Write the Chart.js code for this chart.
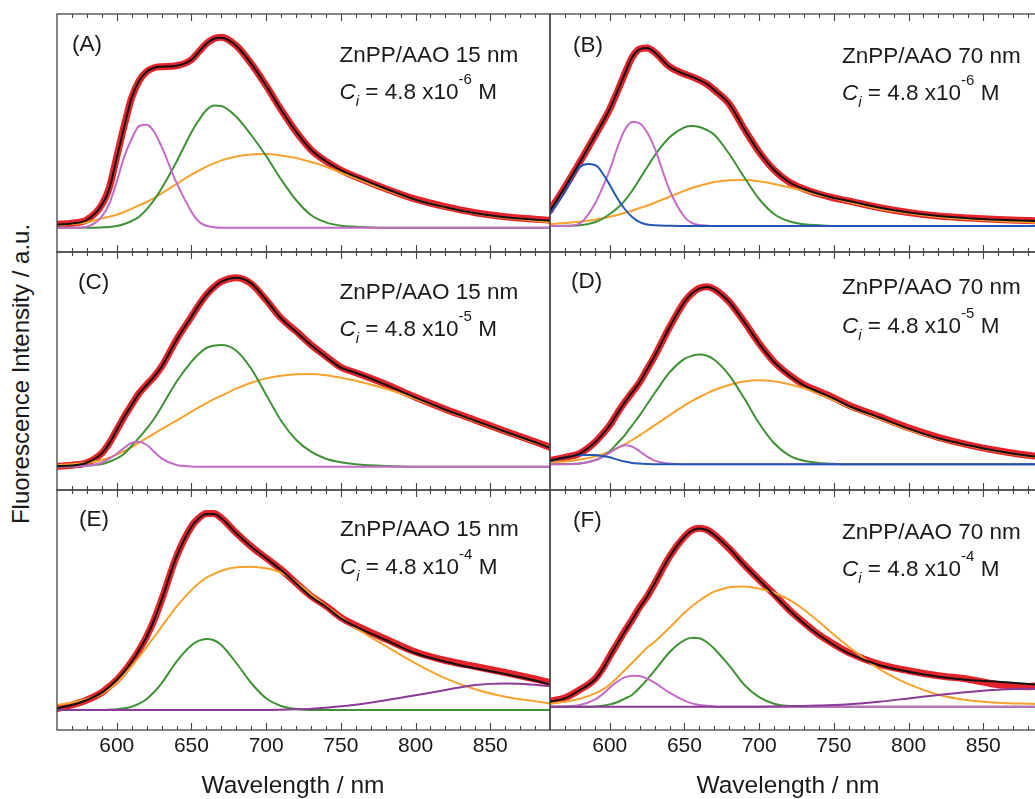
<!DOCTYPE html>
<html>
<head>
<meta charset="utf-8">
<script src="https://cdn.jsdelivr.net/npm/chart.js@4.4.1/dist/chart.umd.min.js"></script>
<style>
html,body{margin:0;padding:0;background:#fff;overflow:hidden;}
#wrap{position:relative;width:1035px;height:799px;overflow:hidden;background:#fff;font-family:"Liberation Sans",Arial,Helvetica,sans-serif;color:#1a1a1a;}
#wrap canvas{position:absolute;}
.t{position:absolute;white-space:nowrap;}
.sup{font-size:15px;position:relative;top:-15px;}
.sub{font-size:15px;position:relative;top:7px;font-style:italic;}
</style>
</head>
<body>
<div id="wrap"></div>
<script>
// ---------------- data (intensity in a.u. above each panel's baseline) ----------------
const wavelengths = [560,570,580,590,595,600,605,610,615,620,625,630,640,650,655,660,665,670,680,690,700,710,720,730,740,750,760,780,800,820,840,860,880,890];
const xTickLabels = [600,650,700,750,800,850];

// (A) ZnPP/AAO 15 nm, 4.8e-6 M
const A_data    = [3.5,4.5,8,23,40,71,102,130,147,156,160,161,162,168,176,184,189,190.5,182,164,142,118,96,78,66.5,57.5,51,39,28.5,21,15,11,8.5,7.5];
const A_fit     = [3,4.3,7.7,22.7,39,70,101,130,147,156,160,161,162,168,176,184,189,190,182,164,142,118,96,78,66.5,57.5,51,39,28,20.5,14.5,10.5,8,7];
const A_magenta = [0,0,1,11,24,46,71,89,101.7,103,96,81,45,16,6,2,0.5,0,0,0,0,0,0,0,0,0,0,0,0,0,0,0,0,0];
const A_green   = [0,0,0,0.3,0.7,1.7,3.7,6.7,11,18.3,27.7,39.3,66,95.5,107.7,117.7,122.3,121.7,111,92.7,71.7,48.3,27.7,12.7,5.3,2,1,0,0,0,0,0,0,0];
const A_orange  = [2.7,3.7,5.3,9.3,11,13,15.7,19,22.3,25.7,29.7,34.3,43.7,53,57,61,64.3,67.3,71.3,73.3,73.7,72.3,69.7,65.7,61,55,49.3,37.7,27.7,20.3,14.3,10,7,5.3];

// (B) ZnPP/AAO 70 nm, 4.8e-6 M
const B_data    = [15.5,39,64,90,103,117,134,152,168.7,177,178,173.7,159.3,152,149.3,146,142,136,122,97,74,56,44,37,32,28,25,18.5,13.5,10,8,6.5,5.5,5];
const B_fit     = [15.3,38.7,63.7,90,103,117,134,152,168.7,176.7,178,173.7,159.3,152,149.3,146,142,136,122,97,74,56,44,37,32,28,25,18.5,13.5,10,7.8,6.3,5.3,4.8];
const B_blue    = [12,34,59,61,53,41,28,17,9,3.8,1.6,0.7,0.2,0,0,0,0,0,0,0,0,0,0,0,0,0,0,0,0,0,0,0,0,0];
const B_magenta = [0,0,2.7,22,38,56,78,96,104,102.7,93.7,78,36,9,3,1,0.3,0,0,0,0,0,0,0,0,0,0,0,0,0,0,0,0,0];
const B_green   = [0,0.3,0.7,3.7,7,12,17.7,25.3,35.3,47,58.7,70.3,88.7,98.7,100,99,96,91.3,72,48.7,27,12,4.7,1.7,0.7,0,0,0,0,0,0,0,0,0];
const B_orange  = [2,3,4.3,6.3,7.7,9.3,11,13.3,15.3,18,20.3,23.3,29.3,35.3,38,40.3,42.3,44,45.7,46,44.7,42,38.7,35,31,27.7,24,17.3,12.7,9,6.7,5,3.7,3];

// (C) ZnPP/AAO 15 nm, 4.8e-5 M
const C_data    = [0.5,1.5,4,13.5,23.5,36.7,50,62,73.5,82,90,100,127,150,161.7,172,179.5,185,189,183,166.7,148.5,135.5,122,110.5,99.5,94,82.5,69.5,57.5,46.5,35.5,25,19.5];
const C_fit     = [0.7,1.3,4,13.3,23.3,36.7,50,61.7,73.3,81.7,90,100,126.7,150,161.7,171.7,179.3,185,189,183.3,166.7,148.3,135,121.7,110,99,94,82,69,57,46,35,24.5,19];
const C_magenta = [0,0.3,1,4,8,13,19,24,25,21.7,15,8.3,1.7,0.3,0,0,0,0,0,0,0,0,0,0,0,0,0,0,0,0,0,0,0,0];
const C_green   = [0,0.3,1,2.7,5,8.3,13,21,29,38,48,60,85,105,113,118.7,121,121.7,116,98,72,46,27,15,8,4.5,2.5,0.7,0,0,0,0,0,0];
const C_orange  = [1.7,2.5,4,6.5,9,12,15.5,19.5,24,28.5,33,37.5,46,55,59.5,63.5,67.5,71,78,84,88.3,91,92.5,92.7,91.5,89,86,78,68,56.5,45.5,34.5,24,19.5];

// (D) ZnPP/AAO 70 nm, 4.8e-5 M
const D_data    = [4,7,11,22,30,39,51,62,72,82,95,108,137,162.5,171,176,177.5,175,162.5,142.5,121,102.5,89.5,79.5,73,66.5,59,48,36.5,27,19.5,13.5,9,7.5];
const D_fit     = [4,6.7,10.7,21.7,29.7,39,50.7,61.7,72,82,95,108,137,162.3,170.7,175.7,177.3,175,162.3,142.3,120.7,102.3,89,79,72.3,65.7,58.3,47,35.7,26,19,13,8.5,7];
const D_blue    = [3,6.7,9.3,9.3,8.3,7,4.7,2.7,1.3,0.7,0.3,0,0,0,0,0,0,0,0,0,0,0,0,0,0,0,0,0,0,0,0,0,0,0];
const D_magenta = [0,0,0.7,4,7.3,11.7,16.3,19,17.7,13,7.7,3.7,0.7,0,0,0,0,0,0,0,0,0,0,0,0,0,0,0,0,0,0,0,0,0];
const D_green   = [0,0.2,0.7,4,7.5,13,21,29,39,49,60,71,92,105.5,108.5,109.7,108.5,104.5,89,66,41,21,9,3.5,1.3,0.5,0,0,0,0,0,0,0,0];
const D_orange  = [1.7,2.7,4.7,7.7,10,12.7,16,20,24.3,29,34,39,49,59,63.3,67.3,71,74.3,79.3,82.7,84,83,80,76,70.5,64,57.3,46,34.5,25.5,18.5,12.5,8,6.5];

// (E) ZnPP/AAO 15 nm, 4.8e-4 M
const E_data    = [1.5,5,10,17.5,23.5,30,38.5,48.5,60,73.5,90,110,153.5,183.5,192,196.5,196.5,192,177,163.5,152,140.5,127,114,104,92.5,84.5,71,58,49.5,43.5,37.5,31,27.5];
const E_fit     = [1.7,5,10,17.3,23.3,30,38.3,48.3,60,73.3,90,110,153.3,183.3,191.7,196,196,191.7,176.7,163.3,151.7,140,126.7,113.3,103.3,91.7,83.3,70,56.7,48.3,41.7,36,29.5,25.5];
const E_green   = [0,0,0,0,0.3,0.7,1.7,3.3,6.3,11,18,26.7,48.3,64.7,69.3,71,69.7,65,47,27,11.7,4,1,0,0,0,0,0,0,0,0,0,0,0];
const E_orange  = [5,7.5,11,16,20.7,27,35,44,53,63,73,83.3,103.3,120,126.7,132.3,136,139.3,142.7,143.3,141.7,137.3,128,116,104,93,82,64,46.7,31.7,20.7,13.3,8.7,6.7];
const E_purple  = [0,0,0,0,0,0,0,0,0,0,0,0,0,0,0,0,0,0,0,0,0,0.3,0.7,1.3,2.3,3.7,5.3,9.7,14.7,20,25,26.5,25.3,23.7];

// (F) ZnPP/AAO 70 nm, 4.8e-4 M
const F_data    = [5.5,9,17,27.5,37.5,50.5,63,75.5,87,99.5,110,123,150,170,176.5,178.5,177,172,158,142,127,112.5,97,84,72,62.5,54,42.5,36,31,27.5,22,20,22];
const F_fit     = [5,8.3,16.7,27,37,50,63,75,87,99,110,123.3,150,170,176,178.3,176.7,171.7,158.3,141.7,126.7,111.7,96.7,83.3,71.7,61.7,53.3,41.7,35,30,26.7,25,22.7,21.7];
const F_magenta = [0,0.3,1.7,7,12.3,19,25,29.3,31,30.7,28,24,14,6,3.3,1.7,1,0.3,0,0,0,0,0,0,0,0,0,0,0,0,0,0,0,0];
const F_green   = [0,0,0,0.3,1,2.3,4.5,8,12,19,27,36,54.5,66.5,69,68.5,64.5,58,41,22,9.5,3,0.7,0,0,0,0,0,0,0,0,0,0,0];
const F_orange  = [3.3,5,8,13,17,22,29,36.5,44,51.5,59,65,79,94,100.5,106,111,115,119.5,120.3,118,114,107,97,85,72,60,38,22.5,12,6.5,4,3,2.7];
const F_purple  = [0,0,0,0,0,0,0,0,0,0,0,0,0,0,0,0,0,0,0,0,0,0.2,0.4,0.8,1.2,1.7,2.5,5,8.3,11.7,14.7,17,18,18];

// ---------------- styling / layout ----------------
const FONT = '"Liberation Sans", Arial, Helvetica, sans-serif';
const COLORS = {data:'#e4232b', fit:'#111111', magenta:'#c46bc8', green:'#3f9136', orange:'#f8a22e', blue:'#2457b6', purple:'#8a3a97'};
const WIDTHS = {data:7, fit:2, magenta:2, green:2, orange:2, blue:2, purple:2};
const ORDER  = {data:3, fit:1, magenta:2, green:2, orange:2, blue:2, purple:2};
const COL_LEFT = [57, 550];
const PANEL_W = 493;
const ROW_TOP = [14, 252, 490];
const ROW_H = [238, 238, 240];
const PAD = 4;
const AXIS_H = 40;

const panels = [
  {key:'A', col:0, row:0, yMin:-24.3, yMax:213.7, series:[['data',A_data],['fit',A_fit],['magenta',A_magenta],['green',A_green],['orange',A_orange]]},
  {key:'B', col:1, row:0, yMin:-26,   yMax:212,   series:[['data',B_data],['fit',B_fit],['blue',B_blue],['magenta',B_magenta],['green',B_green],['orange',B_orange]]},
  {key:'C', col:0, row:1, yMin:-23.3, yMax:214.7, series:[['data',C_data],['fit',C_fit],['magenta',C_magenta],['green',C_green],['orange',C_orange]]},
  {key:'D', col:1, row:1, yMin:-25.7, yMax:212.3, series:[['data',D_data],['fit',D_fit],['blue',D_blue],['magenta',D_magenta],['green',D_green],['orange',D_orange]]},
  {key:'E', col:0, row:2, yMin:-20,   yMax:220,   series:[['data',E_data],['fit',E_fit],['purple',E_purple],['green',E_green],['orange',E_orange]]},
  {key:'F', col:1, row:2, yMin:-23.3, yMax:216.7, series:[['data',F_data],['fit',F_fit],['purple',F_purple],['magenta',F_magenta],['green',F_green],['orange',F_orange]]}
];
// series drawn with a rounded (tension) spline instead of monotone
const roundedSeries = ['B blue'];

const texts = [
  {label:'(A)', lx:72,  lb:52.5,  pore:'15', exp:'-6', tx:339.5, b1:63,    b2:100},
  {label:'(B)', lx:573, lb:52.8,  pore:'70', exp:'-6', tx:842,   b1:64,    b2:100.7},
  {label:'(C)', lx:78,  lb:290.5, pore:'15', exp:'-5', tx:339.5, b1:300,   b2:337},
  {label:'(D)', lx:571, lb:289,   pore:'70', exp:'-5', tx:842,   b1:295.5, b2:333.7},
  {label:'(E)', lx:79,  lb:527,   pore:'15', exp:'-4', tx:340,   b1:536.7, b2:575},
  {label:'(F)', lx:573, lb:528.5, pore:'70', exp:'-4', tx:842,   b1:540,   b2:576.7}
];

const wrap = document.getElementById('wrap');

const framePlugin = {
  id: 'frame',
  afterDatasetsDraw(chart) {
    const ctx = chart.ctx, a = chart.chartArea, x = chart.scales.x;
    ctx.save();
    ctx.strokeStyle = '#444';
    ctx.lineWidth = 1.3;
    ctx.strokeRect(a.left, a.top, a.right - a.left, a.bottom - a.top);
    ctx.lineWidth = 1.1;
    ctx.beginPath();
    for (let v = 570; v < 890; v += 10) {
      const px = Math.round(x.getPixelForValue(v)) + 0.5;
      const len = (v % 50 === 0) ? 7 : 4;
      ctx.moveTo(px, a.bottom); ctx.lineTo(px, a.bottom - len);
      ctx.moveTo(px, a.top);    ctx.lineTo(px, a.top + len);
    }
    ctx.stroke();
    ctx.restore();
  }
};

panels.forEach(p => {
  const bottomRow = p.row === 2;
  const cv = document.createElement('canvas');
  const W = PANEL_W + 2 * PAD;
  const H = ROW_H[p.row] + 2 * PAD + (bottomRow ? AXIS_H : 0);
  cv.width = W; cv.height = H;
  cv.style.left = (COL_LEFT[p.col] - PAD) + 'px';
  cv.style.top = (ROW_TOP[p.row] - PAD) + 'px';
  cv.style.width = W + 'px'; cv.style.height = H + 'px';
  wrap.appendChild(cv);

  const datasets = p.series.map(([kind, arr]) => {
    const name = p.key + ' ' + kind;
    const rounded = roundedSeries.includes(name);
    return {
      label: name,
      data: wavelengths.map((w, i) => ({x: w, y: arr[i]})),
      borderColor: COLORS[kind],
      backgroundColor: COLORS[kind],
      borderWidth: WIDTHS[kind],
      order: ORDER[kind],
      fill: false,
      clip: 0,
      pointRadius: 0,
      cubicInterpolationMode: rounded ? 'default' : 'monotone',
      tension: rounded ? 0.4 : 0,
      borderCapStyle: 'round',
      borderJoinStyle: 'round'
    };
  });

  const xScale = {
    type: 'linear', min: 560, max: 890,
    display: bottomRow,
    grid: {display: false},
    border: {display: false},
    afterBuildTicks: s => { s.ticks = xTickLabels.map(v => ({value: v})); },
    ticks: {color: '#1a1a1a', font: {family: FONT, size: 21}, padding: -4, maxRotation: 0, autoSkip: false}
  };
  if (bottomRow) xScale.afterFit = s => { s.height = AXIS_H; };

  new Chart(cv, {
    type: 'line',
    data: {datasets},
    options: {
      responsive: false,
      animation: false,
      events: [],
      layout: {padding: {left: PAD, right: PAD, top: PAD, bottom: PAD}},
      plugins: {legend: {display: false}, tooltip: {enabled: false}},
      scales: {
        x: xScale,
        y: {type: 'linear', display: false, min: p.yMin, max: p.yMax}
      }
    },
    plugins: [framePlugin]
  });
});

function addText(html, left, baseline, size, extraStyle) {
  const d = document.createElement('div');
  d.className = 't';
  d.style.left = left + 'px';
  d.style.top = (baseline - 0.8465 * size) + 'px';
  d.style.fontSize = size + 'px';
  d.style.lineHeight = size + 'px';
  if (extraStyle) d.style.cssText += extraStyle;
  d.innerHTML = html;
  wrap.appendChild(d);
  return d;
}

texts.forEach(t => {
  addText(t.label, t.lx, t.lb, 22.5);
  addText('ZnPP/AAO ' + t.pore + ' nm', t.tx, t.b1, 22.5);
  addText('<i>C</i><span class="sub">i</span> = 4.8 x10<span class="sup">' + t.exp + '</span> M', t.tx, t.b2, 22.5);
});

// axis titles
[293, 788].forEach(cx => {
  const d = addText('Wavelength / nm', cx, 794, 24.5);
  d.style.transform = 'translateX(-50%)';
});
const yt = document.createElement('div');
yt.className = 't';
yt.style.cssText += 'left:21px;top:374px;font-size:24px;line-height:24px;transform:translate(-50%,-50%) rotate(-90deg);';
yt.textContent = 'Fluorescence Intensity / a.u.';
wrap.appendChild(yt);
</script>
</body>
</html>
